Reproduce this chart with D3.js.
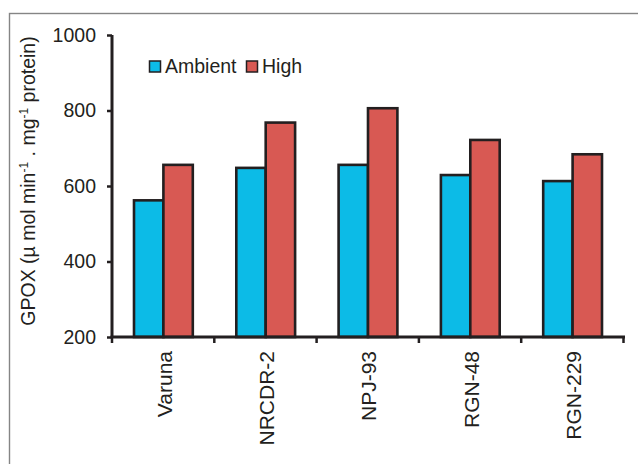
<!DOCTYPE html>
<html><head><meta charset="utf-8">
<script src="https://cdn.jsdelivr.net/npm/d3@7"></script>
<style>body{margin:0;background:#fff}svg{display:block}text{font-family:"Liberation Sans",Arial,sans-serif;fill:#231f20}</style>
</head><body>
<script>
const categories = ["Varuna","NRCDR-2","NPJ-93","RGN-48","RGN-229"];
const ambient = [562, 648, 656, 629, 613];
const high = [656, 768, 806, 722, 684];
const seriesNames = ["Ambient","High"];
const seriesColors = ["#0cbbe7","#d85953"];
const yTicks = [200,400,600,800,1000];

const W=638,H=464;
const svg=d3.select("body").append("svg").attr("width",W).attr("height",H);
svg.append("rect").attr("x",9.5).attr("y",13.5).attr("width",700).attr("height",600)
  .attr("fill","none").attr("stroke","#858585").attr("stroke-width",1.4);

const x0=112,x1=623.5,yTop=35,yBot=337;
const x=d3.scaleBand().domain(categories).range([x0,x1]).paddingInner(0).paddingOuter(0);
const y=d3.scaleLinear().domain([200,1000]).range([yBot,yTop]);
const xs=d3.scaleBand().domain(seriesNames).range([22,x.bandwidth()-21.5]).padding(0);

const data=categories.map((c,i)=>({c,vals:[ambient[i],high[i]]}));
const g=svg.append("g");
data.forEach(d=>{
  d.vals.forEach((v,j)=>{
    g.append("rect").attr("x",x(d.c)+xs(seriesNames[j])).attr("y",y(v))
      .attr("width",xs.bandwidth()).attr("height",y(200)-y(v))
      .attr("fill",seriesColors[j]).attr("stroke","#231f20").attr("stroke-width",2.6);
  });
});

// y axis
const ya=svg.append("g").attr("transform",`translate(${x0},0)`)
  .call(d3.axisLeft(y).tickValues(yTicks).tickSize(5).tickPadding(11).tickFormat(d3.format("d")));
ya.select(".domain").attr("stroke","#231f20").attr("stroke-width",3).attr("d",`M0,${yTop}V${yBot}`);
ya.selectAll(".tick line").attr("stroke","#231f20").attr("stroke-width",2.5);
ya.selectAll(".tick text").attr("font-size","19.5px").attr("fill","#231f20").attr("font-family","Liberation Sans, Arial, sans-serif");

// x axis
const bounds=categories.map(c=>x(c)).concat([x1]);
const xa=svg.append("g");
xa.append("line").attr("x1",x0-1.5).attr("x2",x1+1.5).attr("y1",yBot).attr("y2",yBot)
  .attr("stroke","#231f20").attr("stroke-width",3);
xa.selectAll("line.t").data(bounds).enter().append("line").attr("class","t")
  .attr("x1",d=>d).attr("x2",d=>d).attr("y1",yBot).attr("y2",yBot+6)
  .attr("stroke","#231f20").attr("stroke-width",2.5);
xa.selectAll("text").data(categories).enter().append("text")
  .attr("transform",d=>`translate(${x(d)+x.bandwidth()/2+8.5},${yBot+14}) rotate(-90)`)
  .attr("text-anchor","end").attr("font-size","21px").text(d=>d);

// y title
const t=svg.append("text").attr("transform","translate(35,181) rotate(-90)")
  .attr("text-anchor","middle").attr("font-size","19.5px");
t.append("tspan").text("GPOX (µ mol min");
t.append("tspan").attr("font-size","12px").attr("dy","-7").text("-1");
t.append("tspan").attr("dy","7").text(" . mg");
t.append("tspan").attr("font-size","12px").attr("dy","-7").text("-1");
t.append("tspan").attr("dy","7").text(" protein)");

// legend
const lg=svg.append("g");
const lx=[149.5,246.5];
seriesNames.forEach((s,i)=>{
  lg.append("rect").attr("x",lx[i]).attr("y",61).attr("width",11).attr("height",11)
    .attr("fill",seriesColors[i]).attr("stroke","#231f20").attr("stroke-width",1.5);
  lg.append("text").attr("x",lx[i]+15.5).attr("y",72.5).attr("font-size","19.5px").text(s);
});
</script>
</body></html>
